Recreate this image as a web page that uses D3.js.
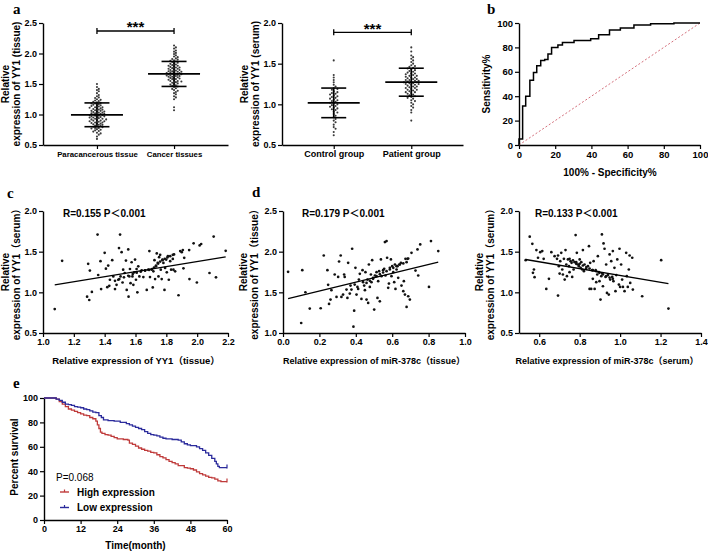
<!DOCTYPE html>
<html><head><meta charset="utf-8">
<script src="https://cdn.jsdelivr.net/npm/d3@7"></script>
<style>body{margin:0;background:#fff}svg{display:block}</style>
</head><body><svg id="chart" width="708" height="553"></svg>
<script>
// ---------------- DATA ----------------
const catsA1 = ["Paracancerous tissue", "Cancer tissues"];
const paraTissue = [0.60,0.64,0.67,0.69,0.70,0.72,0.73,0.74,0.75,0.76,0.77,0.78,0.78,0.79,0.80,0.80,0.81,0.82,0.83,0.83,
 0.84,0.85,0.85,0.86,0.87,0.87,0.88,0.89,0.89,0.90,0.90,0.91,0.92,0.92,0.93,0.93,0.94,0.95,0.95,0.96,
 0.96,0.97,0.97,0.98,0.98,0.99,0.99,1.00,1.00,1.01,1.01,1.02,1.02,1.03,1.03,1.04,1.05,1.05,1.06,1.06,
 1.07,1.08,1.08,1.09,1.10,1.10,1.11,1.12,1.12,1.13,1.14,1.15,1.15,1.16,1.17,1.18,1.18,1.19,1.20,1.21,
 1.22,1.23,1.24,1.25,1.27,1.28,1.30,1.32,1.35,1.38,1.40,1.42,1.45,1.50];
const cancerTissue = [1.07,1.12,1.25,1.28,1.30,1.33,1.35,1.37,1.39,1.40,1.42,1.43,1.45,1.46,1.47,1.48,1.49,1.50,1.51,1.52,
 1.53,1.54,1.55,1.55,1.56,1.57,1.58,1.58,1.59,1.60,1.60,1.61,1.62,1.62,1.63,1.63,1.64,1.64,1.65,1.65,
 1.66,1.66,1.67,1.67,1.68,1.68,1.69,1.69,1.70,1.70,1.71,1.71,1.72,1.73,1.73,1.74,1.75,1.75,1.76,1.77,
 1.77,1.78,1.79,1.80,1.80,1.81,1.82,1.83,1.84,1.85,1.86,1.87,1.88,1.89,1.90,1.91,1.92,1.94,1.95,1.97,
 1.99,2.01,2.03,2.05,2.08,2.10,2.13];
const meansA1 = [0.995, 1.665];
const sdsA1 = [0.195, 0.205];
const yTicksA1 = [0.5, 1.0, 1.5, 2.0, 2.5];

const catsA2 = ["Control group", "Patient group"];
const controlSerum = [0.62,0.66,0.70,0.72,0.75,0.78,0.80,0.82,0.84,0.86,0.88,0.90,0.91,0.93,0.94,0.95,0.96,0.97,0.98,0.99,
 1.00,1.01,1.02,1.03,1.04,1.05,1.06,1.07,1.08,1.09,1.10,1.11,1.12,1.13,1.14,1.15,1.16,1.18,1.19,1.20,
 1.22,1.24,1.27,1.30,1.33,1.36,1.54];
const patientSerum = [0.80,0.90,0.93,0.96,0.98,1.00,1.02,1.04,1.05,1.07,1.08,1.09,1.10,1.11,1.12,1.13,1.14,1.15,1.15,1.16,
 1.17,1.18,1.18,1.19,1.20,1.20,1.21,1.22,1.22,1.23,1.24,1.24,1.25,1.25,1.26,1.26,1.27,1.27,1.28,1.28,
 1.29,1.29,1.30,1.30,1.31,1.31,1.32,1.33,1.33,1.34,1.35,1.35,1.36,1.37,1.38,1.38,1.39,1.40,1.41,1.42,
 1.43,1.44,1.45,1.46,1.47,1.48,1.50,1.52,1.54,1.56,1.58,1.60,1.65,1.70];
const meansA2 = [1.018, 1.272];
const sdsA2 = [0.182, 0.172];
const yTicksA2 = [0.5, 1.0, 1.5, 2.0];

// ROC (100% - specificity, sensitivity), step vertices
const rocFpr = [0, 0, 2, 3.7, 6, 8, 9.8, 12, 14.2, 16, 18, 21.5, 24, 30.4, 39.6, 44, 50, 56, 63.5, 72.7, 85.6, 100];
const rocTpr = [0, 5, 32, 40, 53, 59.5, 65, 69.2, 70, 74.5, 80, 82, 84, 85.7, 87, 90.4, 94.2, 96, 98.3, 99.4, 100, 100];
const rocTicks = [0, 20, 40, 60, 80, 100];

// c: YY1 tissue vs YY1 serum
const cPoints = [[1.076,0.794],[1.124,1.387],[1.286,0.947],[1.293,1.35],[1.3,0.906],[1.304,1.267],[1.317,1.005],[1.354,1.71],
 [1.358,1.213],[1.373,1.383],[1.377,1.04],[1.4,1.486],[1.408,1.291],[1.423,1.329],[1.417,1.063],[1.43,1.08],[1.434,1.155],
 [1.449,1.395],[1.456,1.196],[1.467,1.04],[1.477,1.092],[1.488,1.155],[1.493,1.544],[1.5,1.71],[1.503,1.196],[1.51,1.494],
 [1.516,1.121],[1.52,1.279],[1.53,1.238],[1.538,1.39],[1.543,1.03],[1.553,1.527],[1.555,0.947],[1.56,1.196],[1.564,1.287],
 [1.568,1.113],[1.575,1.37],[1.58,1.196],[1.586,1.092],[1.592,1.246],[1.597,1.403],[1.603,1.155],[1.607,1.287],[1.612,1.0],
 [1.618,1.32],[1.625,1.196],[1.64,1.27],[1.651,1.188],[1.662,1.27],[1.673,1.03],[1.683,1.279],[1.69,1.507],[1.694,1.188],
 [1.705,1.279],[1.712,1.06],[1.716,1.258],[1.723,1.395],[1.727,1.163],[1.733,1.32],[1.738,1.478],[1.744,1.362],[1.749,1.196],
 [1.753,1.432],[1.76,1.461],[1.764,1.279],[1.77,1.163],[1.775,1.403],[1.781,1.362],[1.788,1.03],[1.792,1.3],[1.799,1.403],
 [1.803,1.246],[1.81,1.445],[1.816,1.155],[1.825,1.383],[1.831,1.279],[1.842,1.411],[1.846,1.279],[1.85,1.466],[1.857,1.258],
 [1.879,0.964],[1.89,1.507],[1.9,1.494],[1.907,1.519],[1.911,1.295],[1.916,1.424],[1.948,1.519],[1.95,1.163],[1.977,1.602],
 [1.998,1.121],[2.016,1.577],[2.026,1.594],[2.08,1.238],[2.107,1.685],[2.122,1.184],[2.185,1.51],
 [1.467,1.142],[1.495,1.163],[1.525,1.184],[1.553,1.204],[1.582,1.225],[1.608,1.242],[1.634,1.254],[1.662,1.266],[1.688,1.275],
 [1.707,1.287],[1.72,1.304],[1.733,1.329],[1.747,1.353],[1.76,1.378],[1.775,1.395],[1.79,1.412],[1.807,1.428],[1.825,1.445],[1.842,1.461]];
const cFit = { slope: 0.31, intercept: 0.758 };

// d (left): miR-378c tissue vs YY1 tissue
const d1Points = [[0.028,1.752],[0.1,1.123],[0.106,1.773],[0.123,1.501],[0.147,1.3],[0.207,1.304],[0.224,1.953],[0.244,1.773],
 [0.248,1.592],[0.253,1.357],[0.261,1.411],[0.266,1.526],[0.284,1.719],[0.294,1.444],[0.303,1.69],[0.308,1.879],[0.317,1.953],
 [0.321,1.444],[0.33,1.472],[0.336,1.719],[0.339,1.69],[0.349,1.534],[0.354,1.431],[0.358,1.863],[0.367,1.485],[0.371,1.583],
 [0.376,1.534],[0.38,2.036],[0.387,1.078],[0.391,1.275],[0.394,1.596],[0.398,1.801],[0.404,1.472],[0.409,1.567],[0.413,1.542],
 [0.417,1.657],[0.422,1.727],[0.431,1.419],[0.437,1.773],[0.44,1.625],[0.446,1.583],[0.45,1.526],[0.453,1.748],[0.459,1.411],
 [0.464,1.657],[0.468,1.37],[0.472,1.842],[0.477,1.567],[0.483,1.719],[0.486,1.625],[0.49,1.896],[0.495,1.678],[0.501,1.288],
 [0.505,1.707],[0.514,1.748],[0.519,1.431],[0.523,1.637],[0.528,1.76],[0.532,1.39],[0.538,1.904],[0.541,1.699],[0.55,1.773],
 [0.556,1.789],[0.56,2.118],[0.563,1.707],[0.569,2.13],[0.572,1.925],[0.578,1.555],[0.582,1.608],[0.587,1.801],[0.593,1.904],
 [0.596,1.699],[0.6,1.822],[0.606,1.748],[0.611,1.625],[0.615,1.842],[0.618,1.542],[0.624,1.781],[0.629,1.822],[0.633,1.678],
 [0.639,1.842],[0.648,1.863],[0.651,1.583],[0.661,1.514],[0.664,1.637],[0.67,1.472],[0.673,1.912],[0.679,1.32],[0.684,1.912],
 [0.688,1.452],[0.697,1.411],[0.706,1.986],[0.728,1.768],[0.739,2.027],[0.743,1.707],[0.754,2.089],[0.802,1.567],[0.813,2.13],
 [0.853,2.007],
 [0.459,1.616],[0.477,1.641],[0.495,1.666],[0.514,1.699],[0.532,1.723],[0.55,1.744],[0.569,1.76],[0.587,1.781],[0.606,1.801],
 [0.624,1.822],[0.642,1.842],[0.661,1.855],[0.679,1.871],[0.688,1.916]];
const d1Fit = { slope: 0.543, intercept: 1.408 };

// d (right): miR-378c serum vs YY1 serum
const d2Points = [[0.533,1.396],[0.553,1.684],[0.566,1.597],[0.569,1.24],[0.574,1.281],[0.577,1.186],[0.586,1.519],[0.594,1.425],
 [0.605,1.494],[0.615,1.507],[0.622,1.412],[0.635,1.042],[0.648,1.166],[0.66,1.494],[0.676,1.445],[0.688,1.412],[0.693,1.453],
 [0.697,1.322],[0.701,1.231],[0.704,1.383],[0.693,0.96],[0.709,1.486],[0.714,1.281],[0.717,1.219],[0.722,1.412],[0.726,1.157],
 [0.73,1.519],[0.734,1.342],[0.737,1.199],[0.742,1.404],[0.747,1.322],[0.75,1.248],[0.755,1.383],[0.76,1.363],[0.763,1.19],
 [0.77,1.281],[0.775,1.371],[0.78,1.704],[0.783,1.351],[0.786,1.486],[0.791,1.342],[0.796,1.322],[0.8,1.404],[0.805,1.301],
 [0.808,1.371],[0.813,1.281],[0.816,1.519],[0.821,1.26],[0.824,1.342],[0.832,1.289],[0.841,1.322],[0.846,1.568],[0.849,1.042],
 [0.852,1.363],[0.857,1.042],[0.862,1.273],[0.865,1.166],[0.869,1.383],[0.874,1.042],[0.879,1.273],[0.882,1.125],[0.887,1.219],
 [0.89,1.445],[0.895,1.248],[0.898,1.137],[0.903,0.911],[0.907,1.199],[0.91,1.712],[0.912,1.231],[0.915,1.075],[0.918,1.601],
 [0.923,1.536],[0.928,1.19],[0.931,1.342],[0.935,0.993],[0.94,1.212],[0.944,0.973],[0.948,1.466],[0.951,1.157],[0.956,1.383],
 [0.961,1.19],[0.964,1.507],[0.967,1.137],[0.972,1.301],[0.977,1.014],[0.981,1.212],[0.986,1.404],[0.994,1.096],[0.997,1.536],
 [1.0,1.067],[1.005,1.342],[1.01,1.157],[1.014,1.067],[1.022,1.014],[1.03,1.486],[1.033,1.199],[1.038,1.067],[1.043,1.281],
 [1.047,1.453],[1.05,1.116],[1.06,1.425],[1.063,1.034],[1.109,0.952],[1.203,1.396],[1.239,0.8],
 [0.75,1.412],[0.767,1.392],[0.783,1.371],[0.8,1.351],[0.816,1.33],[0.833,1.31],[0.849,1.293],[0.865,1.273],[0.882,1.26],
 [0.898,1.24],[0.915,1.219],[0.931,1.199],[0.948,1.182],[0.964,1.166]];
const d2Fit = { slope: -0.419, intercept: 1.627 };

// e: Kaplan-Meier survival (month, percent)
const kmHigh = [[0,100],[4,99],[5,97],[6,95],[7,93],[8,91],[9,90],[10,89],[11,88],[12,87],[13,86],[14,85.5],[15,84],[16,83],
 [17,81],[17.5,78],[18,75],[18.5,72],[19,71],[20,70],[21,69.5],[22,68.5],[23,67.5],[24,66.5],[26,66],[27.5,65.5],[28,63],
 [29,62],[30,60.5],[31,59],[32,58],[33,57],[34,56.5],[35,55.5],[36,55],[37,53.5],[38,52],[39,51],[40,49.5],[41,48],[42,47],
 [43,46],[44,44.5],[46,43],[47,42.5],[48,42],[49,41],[50,39.5],[51,38],[52,37],[53,36],[54,35],[55,34.5],[56,33.5],[57,32],
 [58,31.5],[60,31.5]];
const kmLow = [[0,100],[4,99],[5,98],[6,96.5],[7,95],[8,94.5],[9,94],[10,93],[11,92.5],[12,92],[13,91],[14,90.5],[15,89.5],
 [16,88.5],[17,88],[18,85.5],[18.8,84],[19.5,82],[21,81.5],[23,81],[25,80],[27,79],[28,78],[29,77],[30,76],[31,75],[32,74],
 [33,72.5],[34,71],[35,70],[36,69.5],[37,69],[38,68],[39,67],[40,66.5],[42,66],[44,65.5],[45,64],[46,62.5],[47,61.5],[48,61],
 [50,60],[51,58.5],[52,57],[53,55],[54,53],[55,50.5],[56,48],[56.5,46],[57,44],[57.5,43],[59.5,43],[60,43]];
const kmXTicks = [0, 12, 24, 36, 48, 60];
const kmYTicks = [0, 20, 40, 60, 80, 100];
const kmSeries = ["High expression", "Low expression"];
const kmColors = ["#bf3a3a", "#2b2b9c"];
const kmP = "P=0.068";

// ---------------- DRAWING ----------------
const FONT = '"Liberation Sans", Arial, "Noto Sans CJK SC", sans-serif';
const SERIF = '"Liberation Serif", "Times New Roman", serif';
const svg = d3.select("#chart");
svg.append("rect").attr("width", 708).attr("height", 553).attr("fill", "#fff");

function styleAxis(g, fs) {
  g.select(".domain").attr("stroke", "#000").attr("stroke-width", 1.4);
  g.selectAll(".tick line").attr("stroke", "#000").attr("stroke-width", 1.2);
  g.selectAll(".tick text").attr("font-size", fs).attr("font-weight", "bold")
    .attr("fill", "#000").attr("font-family", FONT);
}
function drawAxes(x, y, o) {
  const yb = y.range()[0], xl = x.range()[0];
  const ax = d3.axisBottom(x).tickSize(4).tickSizeOuter(0).tickPadding(2);
  if (o.xTicks) ax.tickValues(o.xTicks);
  if (o.xFmt) ax.tickFormat(o.xFmt);
  const ay = d3.axisLeft(y).tickSize(4).tickSizeOuter(0).tickPadding(2);
  if (o.yTicks) ay.tickValues(o.yTicks);
  if (o.yFmt) ay.tickFormat(o.yFmt);
  const gx = svg.append("g").attr("transform", `translate(0,${yb})`).call(ax);
  styleAxis(gx, o.xfs || 9);
  const gy = svg.append("g").attr("transform", `translate(${xl},0)`).call(ay);
  styleAxis(gy, o.yfs || 9);
}
function text(x, y, s, o = {}) {
  const t = svg.append("text").attr("x", x).attr("y", y).text(s)
    .attr("font-family", o.family || FONT).attr("font-size", o.size || 10)
    .attr("font-weight", o.weight || "bold").attr("fill", o.fill || "#000")
    .attr("text-anchor", o.anchor || "start");
  if (o.rotate) t.attr("transform", `rotate(-90,${x},${y})`);
  if (o.ls) t.attr("letter-spacing", o.ls);
  return t;
}
function yTitle(lines, xs, yc) {
  lines.forEach((l, i) => text(xs[i], yc, l, { anchor: "middle", rotate: true, size: 10 }));
}
function swarm(values, y, cx, r) {
  const pts = values.map(v => ({ v, y: y(v) })).sort((a, b) => a.y - b.y);
  const placed = [], d = 2 * r + 0.35;
  pts.forEach(p => {
    for (let k = 0; k < 200; k++) {
      const off = k === 0 ? 0 : (k % 2 ? 1 : -1) * Math.ceil(k / 2) * d * 0.75;
      const x = cx + off;
      if (placed.every(q => (q.x - x) ** 2 + (q.y - p.y) ** 2 >= d * d * 0.8)) { p.x = x; placed.push(p); break; }
    }
  });
  return pts;
}
function dotPlot(cats, groups, means, sds, x, y) {
  cats.forEach((c, i) => {
    const cx = x(c);
    const pts = swarm(groups[i], y, cx, 1.05);
    svg.append("g").selectAll("circle").data(pts).join("circle")
      .attr("cx", d => d.x).attr("cy", d => d.y).attr("r", 1.05).attr("fill", "#3a3a3a");
    const m = means[i], s = sds[i];
    svg.append("line").attr("x1", cx).attr("x2", cx).attr("y1", y(m - s)).attr("y2", y(m + s))
      .attr("stroke", "#000").attr("stroke-width", 1.6);
    [m - s, m + s].forEach(v => svg.append("line").attr("x1", cx - 12.5).attr("x2", cx + 12.5)
      .attr("y1", y(v)).attr("y2", y(v)).attr("stroke", "#000").attr("stroke-width", 1.6));
    svg.append("line").attr("x1", cx - 26).attr("x2", cx + 26).attr("y1", y(m)).attr("y2", y(m))
      .attr("stroke", "#000").attr("stroke-width", 1.8);
  });
}
function bracket(x, cats, yy, starY) {
  const x1 = x(cats[0]), x2 = x(cats[1]);
  svg.append("line").attr("x1", x1).attr("x2", x2).attr("y1", yy).attr("y2", yy).attr("stroke", "#000").attr("stroke-width", 1.3);
  [x1, x2].forEach(xx => svg.append("line").attr("x1", xx).attr("x2", xx).attr("y1", yy - 3).attr("y2", yy + 3)
    .attr("stroke", "#000").attr("stroke-width", 1.3));
  text((x1 + x2) / 2, starY, "***", { anchor: "middle", size: 15 });
}
function scatter(points, fit, x, y) {
  svg.append("g").selectAll("circle").data(points).join("circle")
    .attr("cx", d => x(d[0])).attr("cy", d => y(d[1])).attr("r", 1.35).attr("fill", "#111");
  const ext = d3.extent(points, d => d[0]);
  svg.append("line").attr("x1", x(ext[0])).attr("x2", x(ext[1]))
    .attr("y1", y(fit.intercept + fit.slope * ext[0])).attr("y2", y(fit.intercept + fit.slope * ext[1]))
    .attr("stroke", "#000").attr("stroke-width", 1.3);
}
const f1 = d3.format(".1f");

// ---- panel a (tissue) ----
const xA1 = d3.scalePoint().domain(catsA1).range([43, 228]).padding(0.7);
const yA1 = d3.scaleLinear().domain([0.5, 2.5]).range([145, 23]);
drawAxes(xA1, yA1, { yTicks: yTicksA1, yFmt: f1, xfs: 7.8 });
dotPlot(catsA1, [paraTissue, cancerTissue], meansA1, sdsA1, xA1, yA1);
bracket(xA1, catsA1, 31, 32);
yTitle(["Relative", "expression of YY1 (tissue)"], [9, 20], 84);

// ---- panel a (serum) ----
const xA2 = d3.scalePoint().domain(catsA2).range([282, 463]).padding(0.667);
const yA2 = d3.scaleLinear().domain([0.5, 2.0]).range([145, 23]);
drawAxes(xA2, yA2, { yTicks: yTicksA2, yFmt: f1, xfs: 9 });
dotPlot(catsA2, [controlSerum, patientSerum], meansA2, sdsA2, xA2, yA2);
bracket(xA2, catsA2, 32.3, 34);
yTitle(["Relative", "expression of YY1 (serum)"], [248, 259], 84);

// ---- panel b (ROC) ----
const xB = d3.scaleLinear().domain([0, 100]).range([519, 700]);
const yB = d3.scaleLinear().domain([0, 100]).range([145, 23]);
drawAxes(xB, yB, { xTicks: rocTicks, yTicks: rocTicks, xfs: 9.5, yfs: 9.5 });
svg.append("line").attr("x1", xB(0)).attr("y1", yB(0)).attr("x2", xB(100)).attr("y2", yB(100))
  .attr("stroke", "#d4707c").attr("stroke-width", 1).attr("stroke-dasharray", "2,2");
svg.append("path").datum(rocFpr.map((f, i) => [f, rocTpr[i]]))
  .attr("d", d3.line().x(d => xB(d[0])).y(d => yB(d[1])).curve(d3.curveStepAfter))
  .attr("fill", "none").attr("stroke", "#000").attr("stroke-width", 1.5);
text(610, 176, "100% - Specificity%", { anchor: "middle", size: 10 });
text(490, 84, "Sensitivity%", { anchor: "middle", rotate: true, size: 10 });

// ---- panel c ----
const xC = d3.scaleLinear().domain([1.0, 2.2]).range([43, 228]);
const yC = d3.scaleLinear().domain([0.5, 2.0]).range([333, 211]);
drawAxes(xC, yC, { xTicks: [1.0, 1.2, 1.4, 1.6, 1.8, 2.0, 2.2], yTicks: [0.5, 1.0, 1.5, 2.0], xFmt: f1, yFmt: f1 });
scatter(cPoints, cFit, xC, yC);
text(63, 217, "R=0.155 P＜0.001", { size: 10 });
text(136, 364, "Relative expression of YY1（tissue）", { anchor: "middle", size: 9.5 });
yTitle(["Relative", "expression of YY1（serum）"], [9, 20], 272);

// ---- panel d (tissue) ----
const xD1 = d3.scaleLinear().domain([0, 1.0]).range([283, 465]);
const yD1 = d3.scaleLinear().domain([1.0, 2.5]).range([333, 211]);
drawAxes(xD1, yD1, { xTicks: [0, 0.2, 0.4, 0.6, 0.8, 1.0], yTicks: [1.0, 1.5, 2.0, 2.5], xFmt: f1, yFmt: f1 });
scatter(d1Points, d1Fit, xD1, yD1);
text(302, 217, "R=0.179 P＜0.001", { size: 10 });
text(374, 364, "Relative expression of miR-378c（tissue）", { anchor: "middle", size: 9 });
yTitle(["Relative", "expression of YY1（tissue）"], [247, 258], 272);

// ---- panel d (serum) ----
const xD2 = d3.scaleLinear().domain([0.5, 1.4]).range([519, 701]);
const yD2 = d3.scaleLinear().domain([0.5, 2.0]).range([333, 211]);
drawAxes(xD2, yD2, { xTicks: [0.6, 0.8, 1.0, 1.2, 1.4], yTicks: [0.5, 1.0, 1.5, 2.0], xFmt: f1, yFmt: f1 });
scatter(d2Points, d2Fit, xD2, yD2);
text(535, 217, "R=0.133 P＜0.001", { size: 10 });
text(607, 364, "Relative expression of miR-378c（serum）", { anchor: "middle", size: 9 });
yTitle(["Relative", "expression of YY1（serum）"], [483, 494], 272);

// ---- panel e (KM) ----
const xE = d3.scaleLinear().domain([0, 60]).range([44, 227]);
const yE = d3.scaleLinear().domain([0, 100]).range([520, 398]);
drawAxes(xE, yE, { xTicks: kmXTicks, yTicks: kmYTicks });
[kmHigh, kmLow].forEach((s, i) => {
  svg.append("path").datum(s)
    .attr("d", d3.line().x(d => xE(d[0])).y(d => yE(d[1])).curve(d3.curveStepAfter))
    .attr("fill", "none").attr("stroke", kmColors[i]).attr("stroke-width", 1.3);
  const last = s[s.length - 1];
  svg.append("line").attr("x1", xE(last[0])).attr("x2", xE(last[0]))
    .attr("y1", yE(last[1]) - 3).attr("y2", yE(last[1]) + 1).attr("stroke", kmColors[i]).attr("stroke-width", 1.2);
});
text(56, 481, kmP, { size: 10, weight: "normal" });
kmSeries.forEach((s, i) => {
  const yy = 492 + i * 15.5;
  svg.append("line").attr("x1", 60).attr("x2", 69).attr("y1", yy).attr("y2", yy).attr("stroke", kmColors[i]).attr("stroke-width", 1.4);
  svg.append("line").attr("x1", 64.5).attr("x2", 64.5).attr("y1", yy - 2.5).attr("y2", yy).attr("stroke", kmColors[i]).attr("stroke-width", 1.2);
  text(77, yy + 3.6, s, { size: 10 });
});
text(135.5, 549, "Time(month)", { anchor: "middle", size: 10 });
text(18, 457, "Percent survival", { anchor: "middle", rotate: true, size: 10 });

// ---- panel letters ----
[["a", 13, 14], ["b", 487, 14], ["c", 7, 198], ["d", 252, 197], ["e", 13, 388]].forEach(([l, x, y]) =>
  text(x, y, l, { family: SERIF, size: 15, weight: "bold" }));
</script></body></html>
